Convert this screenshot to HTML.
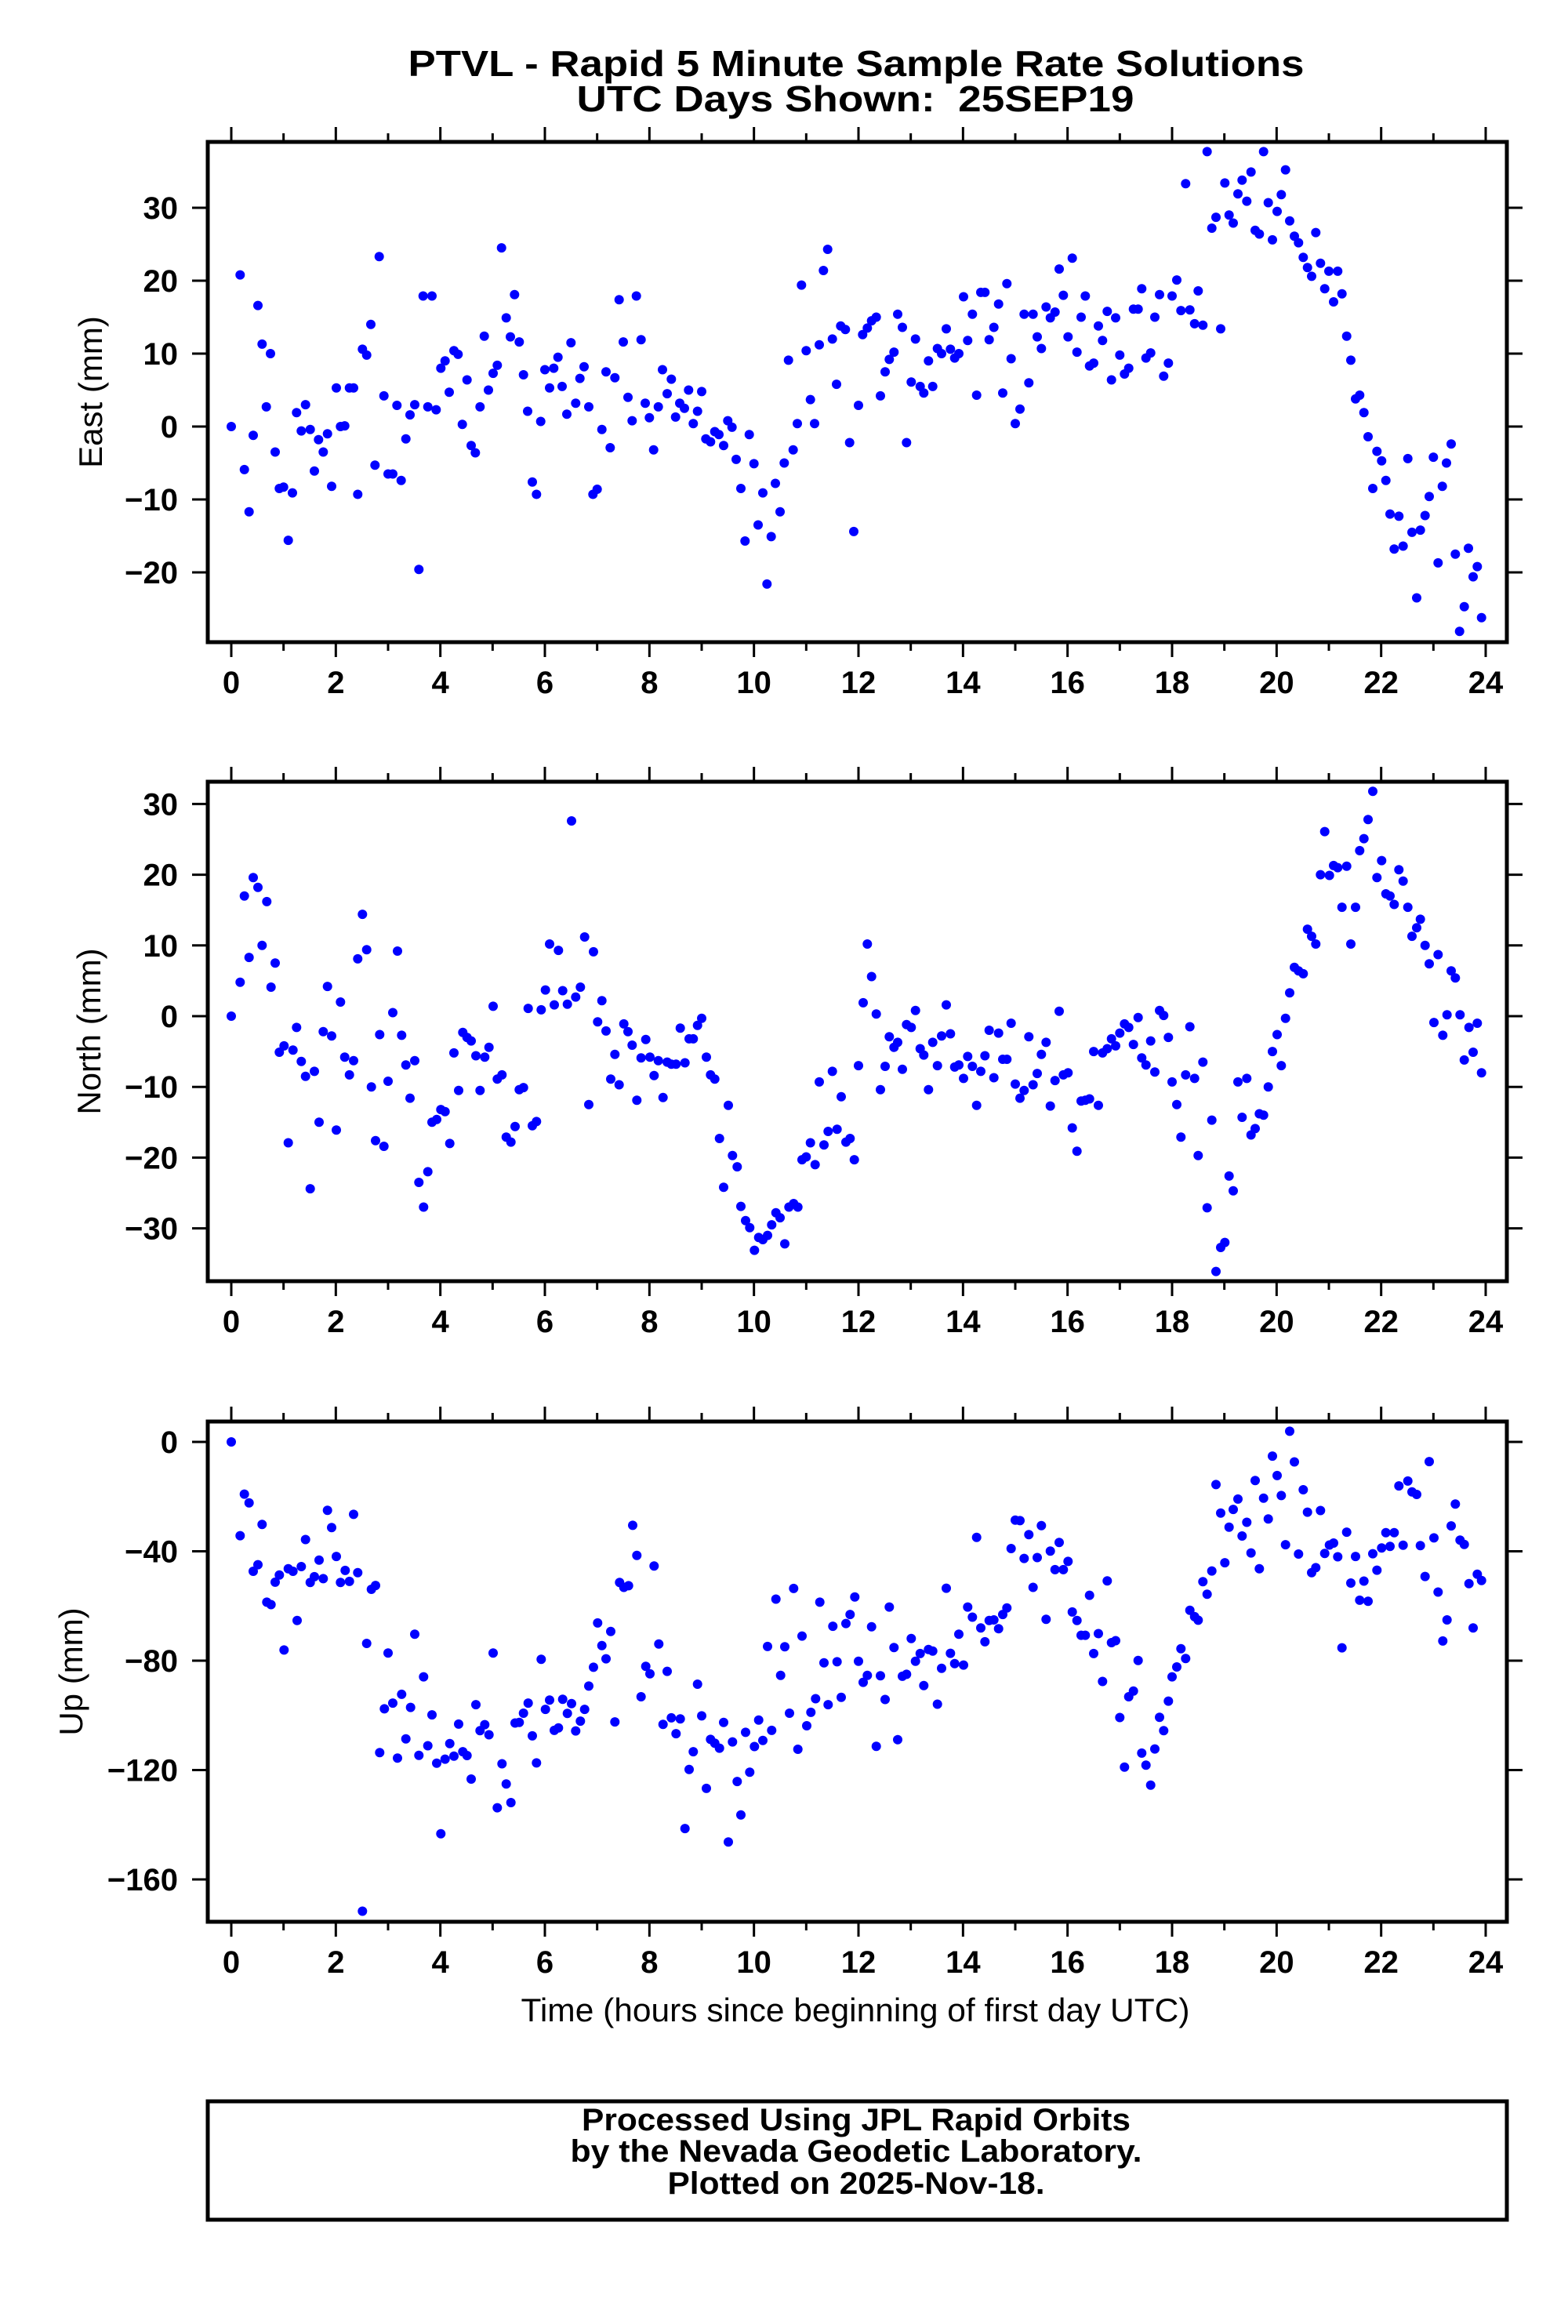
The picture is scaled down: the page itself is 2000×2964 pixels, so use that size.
<!DOCTYPE html>
<html>
<head>
<meta charset="utf-8">
<style>
  html, body { margin: 0; padding: 0; background: #fff; }
  svg { display: block; }
  text { font-family: "Liberation Sans", Arial, sans-serif; fill: #000; }
  .b { font-weight: bold; }
</style>
</head>
<body>
<svg id="chart" xmlns="http://www.w3.org/2000/svg" width="2000" height="2964" viewBox="0 0 2000 2964">
  <rect x="0" y="0" width="2000" height="2964" fill="#fff"/>
  <text class="b" x="1092" y="97" font-size="46" text-anchor="middle" textLength="1143" lengthAdjust="spacingAndGlyphs">PTVL - Rapid 5 Minute Sample Rate Solutions</text>
  <text class="b" x="1091" y="142" font-size="46" text-anchor="middle" textLength="711" lengthAdjust="spacingAndGlyphs" xml:space="preserve">UTC Days Shown:  25SEP19</text>
  <g id="panels"></g>
  <text x="1091" y="2578" font-size="42" text-anchor="middle" textLength="853" lengthAdjust="spacingAndGlyphs">Time (hours since beginning of first day UTC)</text>
  <rect x="265" y="2680" width="1657" height="151" fill="none" stroke="#000" stroke-width="5"/>
  <text class="b" x="1092" y="2717" font-size="40" text-anchor="middle" textLength="700" lengthAdjust="spacingAndGlyphs">Processed Using JPL Rapid Orbits</text>
  <text class="b" x="1092" y="2757" font-size="40" text-anchor="middle" textLength="729" lengthAdjust="spacingAndGlyphs">by the Nevada Geodetic Laboratory.</text>
  <text class="b" x="1092" y="2798" font-size="40" text-anchor="middle" textLength="481" lengthAdjust="spacingAndGlyphs">Plotted on 2025-Nov-18.</text>
</svg>
<script>
// ---------- Data ----------
const xTickLabels = [0,2,4,6,8,10,12,14,16,18,20,22,24];
const eastTicks = [-20,-10,0,10,20,30];
const northTicks = [-30,-20,-10,0,10,20,30];
const upTicks = [-160,-120,-80,-40,0];

const eastHours = [0.0,0.17,0.25,0.34,0.42,0.51,0.59,0.67,0.75,0.84,0.92,1.0,1.09,1.17,1.25,1.34,1.42,1.51,1.59,1.67,1.76,1.84,1.92,2.01,2.09,2.17,2.26,2.34,2.42,2.51,2.59,2.67,2.75,2.83,2.92,3.0,3.09,3.17,3.25,3.34,3.42,3.51,3.59,3.67,3.76,3.84,3.92,4.01,4.09,4.17,4.26,4.34,4.42,4.51,4.59,4.67,4.76,4.84,4.92,5.01,5.09,5.17,5.26,5.34,5.42,5.51,5.59,5.67,5.76,5.84,5.92,6.0,6.09,6.17,6.25,6.33,6.42,6.5,6.59,6.67,6.75,6.84,6.92,7.0,7.09,7.17,7.25,7.34,7.42,7.5,7.59,7.67,7.75,7.84,7.92,8.0,8.08,8.17,8.25,8.34,8.42,8.5,8.58,8.67,8.75,8.84,8.92,9.0,9.08,9.17,9.25,9.33,9.42,9.5,9.58,9.66,9.75,9.83,9.91,10.0,10.08,10.17,10.25,10.33,10.41,10.5,10.58,10.66,10.75,10.83,10.91,11.0,11.08,11.16,11.25,11.33,11.41,11.5,11.58,11.66,11.75,11.83,11.91,12.0,12.08,12.17,12.25,12.34,12.42,12.51,12.59,12.68,12.75,12.84,12.92,13.01,13.09,13.18,13.25,13.34,13.42,13.51,13.59,13.68,13.76,13.84,13.92,14.01,14.09,14.18,14.26,14.34,14.42,14.5,14.59,14.68,14.76,14.84,14.92,15.0,15.09,15.17,15.26,15.34,15.42,15.5,15.59,15.67,15.76,15.84,15.92,16.01,16.09,16.18,16.26,16.34,16.42,16.5,16.59,16.67,16.76,16.84,16.92,17.0,17.09,17.17,17.26,17.35,17.42,17.5,17.59,17.67,17.76,17.84,17.93,18.0,18.09,18.17,18.26,18.34,18.43,18.5,18.59,18.67,18.76,18.84,18.93,19.01,19.09,19.17,19.26,19.34,19.43,19.51,19.59,19.67,19.75,19.84,19.92,20.01,20.09,20.17,20.25,20.34,20.42,20.51,20.59,20.67,20.75,20.84,20.92,21.0,21.09,21.17,21.25,21.34,21.42,21.51,21.59,21.67,21.75,21.84,21.92,22.01,22.09,22.17,22.25,22.34,22.42,22.51,22.59,22.68,22.75,22.84,22.92,23.0,23.09,23.17,23.25,23.34,23.42,23.5,23.59,23.67,23.76,23.84,23.92];
const eastValues = [0.0,20.8,-5.9,-11.7,-1.2,16.6,11.3,2.7,10.0,-3.5,-8.5,-8.3,-15.6,-9.1,1.9,-0.6,3.0,-0.4,-6.1,-1.8,-3.5,-1.0,-8.2,5.3,0.0,0.1,5.3,5.3,-9.3,10.6,9.8,14.0,-5.3,23.3,4.2,-6.5,-6.5,2.9,-7.4,-1.7,1.6,3.0,-19.6,17.9,2.7,17.9,2.3,8.0,9.0,4.7,10.4,9.9,0.3,6.4,-2.6,-3.6,2.7,12.4,5.0,7.3,8.4,24.5,14.9,12.3,18.1,11.6,7.1,2.1,-7.6,-9.3,0.7,7.8,5.3,8.0,9.5,5.5,1.7,11.5,3.2,6.6,8.2,2.7,-9.3,-8.6,-0.4,7.5,-2.9,6.7,17.4,11.6,4.0,0.8,17.9,11.9,3.2,1.2,-3.2,2.7,7.8,4.5,6.5,1.3,3.2,2.5,5.0,0.4,2.1,4.8,-1.7,-2.1,-0.7,-1.1,-2.6,0.8,-0.1,-4.5,-8.5,-15.7,-1.1,-5.1,-13.5,-9.1,-21.6,-15.1,-7.8,-11.7,-5.0,9.1,-3.2,0.4,19.4,10.4,3.7,0.4,11.2,21.4,24.3,12.0,5.8,13.8,13.3,-2.2,-14.4,2.9,12.6,13.5,14.5,15.0,4.2,7.5,9.2,10.2,15.4,13.6,-2.2,6.1,12.0,5.5,4.6,9.0,5.5,10.7,10.0,13.4,10.6,9.4,10.0,17.8,11.8,15.4,4.3,18.4,18.4,11.9,13.6,16.8,4.6,19.6,9.3,0.4,2.4,15.4,6.0,15.4,12.3,10.7,16.4,14.9,15.7,21.6,18.0,12.3,23.1,10.2,15.0,17.9,8.3,8.7,13.8,11.8,15.8,6.4,14.9,9.8,7.2,8.0,16.1,16.1,18.9,9.4,10.1,15.0,18.1,6.9,8.7,17.9,20.1,15.9,33.3,16.0,14.1,18.6,13.9,37.7,27.2,28.7,13.4,33.4,29.0,27.9,31.9,33.8,30.9,34.9,26.9,26.4,37.7,30.7,25.6,29.5,31.8,35.2,28.2,26.1,25.2,23.2,21.8,20.6,26.6,22.4,18.9,21.3,17.1,21.3,18.2,12.4,9.1,3.8,4.3,1.9,-1.4,-8.5,-3.4,-4.7,-7.4,-12.0,-16.8,-12.3,-16.4,-4.4,-14.5,-23.5,-14.2,-12.2,-9.6,-4.2,-18.7,-8.2,-5.0,-2.4,-17.5,-28.1,-24.7,-16.7,-20.6,-19.2,-26.2];

const northHours = [0.0,0.17,0.25,0.34,0.42,0.51,0.59,0.68,0.76,0.84,0.92,1.01,1.09,1.18,1.25,1.34,1.42,1.51,1.59,1.68,1.76,1.84,1.92,2.01,2.09,2.17,2.26,2.34,2.42,2.51,2.59,2.68,2.76,2.84,2.92,3.0,3.09,3.18,3.26,3.34,3.42,3.51,3.59,3.68,3.76,3.84,3.93,4.01,4.09,4.18,4.26,4.35,4.43,4.51,4.59,4.68,4.76,4.85,4.93,5.01,5.09,5.18,5.26,5.35,5.43,5.51,5.59,5.68,5.76,5.84,5.93,6.01,6.09,6.18,6.26,6.34,6.43,6.51,6.59,6.68,6.76,6.84,6.93,7.01,7.09,7.17,7.26,7.34,7.42,7.51,7.59,7.67,7.76,7.84,7.93,8.01,8.09,8.17,8.26,8.34,8.42,8.51,8.59,8.68,8.76,8.84,8.92,9.0,9.09,9.17,9.25,9.34,9.42,9.51,9.59,9.68,9.75,9.84,9.92,10.01,10.09,10.17,10.26,10.34,10.42,10.5,10.59,10.67,10.76,10.84,10.92,11.0,11.08,11.17,11.25,11.34,11.42,11.5,11.59,11.67,11.76,11.84,11.92,12.0,12.09,12.17,12.25,12.34,12.42,12.51,12.59,12.68,12.75,12.84,12.92,13.01,13.09,13.18,13.25,13.34,13.42,13.51,13.59,13.68,13.76,13.84,13.92,14.01,14.09,14.18,14.26,14.34,14.42,14.5,14.59,14.68,14.76,14.84,14.92,15.0,15.09,15.17,15.26,15.34,15.42,15.5,15.59,15.67,15.76,15.84,15.92,16.01,16.09,16.18,16.26,16.34,16.42,16.5,16.59,16.67,16.76,16.84,16.92,17.0,17.09,17.17,17.26,17.35,17.42,17.5,17.59,17.67,17.76,17.84,17.93,18.0,18.09,18.17,18.26,18.34,18.43,18.5,18.59,18.67,18.76,18.84,18.93,19.01,19.09,19.17,19.26,19.34,19.43,19.51,19.59,19.67,19.75,19.84,19.92,20.01,20.09,20.17,20.25,20.34,20.42,20.51,20.59,20.67,20.75,20.84,20.92,21.01,21.09,21.17,21.25,21.34,21.42,21.51,21.59,21.67,21.75,21.84,21.92,22.01,22.09,22.17,22.25,22.34,22.42,22.51,22.59,22.68,22.75,22.84,22.92,23.01,23.09,23.18,23.26,23.34,23.42,23.51,23.59,23.68,23.76,23.84,23.92];
const northValues = [0.0,4.8,17.0,8.3,19.6,18.2,10.0,16.2,4.1,7.5,-5.1,-4.2,-17.9,-4.8,-1.6,-6.4,-8.5,-24.4,-7.8,-15.0,-2.2,4.2,-2.8,-16.1,2.0,-5.8,-8.3,-6.3,8.1,14.4,9.4,-10.0,-17.6,-2.6,-18.4,-9.2,0.5,9.2,-2.7,-6.9,-11.6,-6.3,-23.5,-27.0,-22.0,-15.0,-14.6,-13.2,-13.5,-18.0,-5.2,-10.5,-2.3,-3.0,-3.5,-5.6,-10.5,-5.8,-4.4,1.4,-8.9,-8.3,-17.1,-17.8,-15.6,-10.4,-10.1,1.1,-15.5,-14.9,0.9,3.7,10.2,1.6,9.3,3.6,1.7,27.6,2.7,4.1,11.2,-12.5,9.1,-0.8,2.2,-2.1,-8.9,-5.4,-9.7,-1.1,-2.2,-4.1,-11.9,-5.9,-3.3,-5.8,-8.4,-6.3,-11.5,-6.5,-6.8,-6.8,-1.7,-6.6,-3.2,-3.2,-1.3,-0.3,-5.8,-8.3,-8.9,-17.3,-24.2,-12.6,-19.7,-21.3,-26.9,-28.9,-29.9,-33.1,-31.3,-31.6,-31.0,-29.5,-27.8,-28.5,-32.2,-27.0,-26.5,-27.0,-20.3,-19.9,-17.9,-21.0,-9.3,-18.2,-16.3,-7.8,-16.0,-11.4,-17.8,-17.3,-20.3,-7.0,1.9,10.2,5.6,0.3,-10.4,-7.1,-2.9,-4.4,-3.7,-7.5,-1.2,-1.6,0.8,-4.6,-5.5,-10.4,-3.7,-7.0,-2.8,1.6,-2.5,-7.2,-6.9,-8.8,-5.7,-7.1,-12.6,-7.8,-5.6,-2.0,-8.7,-2.4,-6.1,-6.1,-1.0,-9.6,-11.6,-10.5,-2.9,-9.7,-8.1,-5.4,-3.7,-12.7,-9.1,0.7,-8.3,-8.0,-15.8,-19.1,-12.0,-11.9,-11.7,-5.0,-12.6,-5.2,-4.6,-3.2,-4.2,-2.4,-1.1,-1.6,-4.0,-0.2,-5.9,-6.9,-3.5,-7.9,0.8,0.1,-3.0,-9.3,-12.5,-17.1,-8.3,-1.5,-8.8,-19.7,-6.5,-27.1,-14.7,-36.1,-32.7,-32.0,-22.6,-24.7,-9.3,-14.3,-8.8,-16.8,-15.9,-13.8,-14.0,-10.0,-5.0,-2.6,-7.0,-0.3,3.3,6.9,6.4,6.0,12.3,11.3,10.2,20.0,26.1,19.9,21.3,21.0,15.4,21.2,10.2,15.4,23.4,25.1,27.8,31.8,19.6,22.0,17.3,17.0,15.8,20.7,19.1,15.4,11.3,12.5,13.7,10.0,7.4,-0.9,8.7,-2.7,0.2,6.4,5.4,0.2,-6.2,-1.6,-5.1,-1.0,-8.0];

const upHours = [0.0,0.17,0.25,0.34,0.42,0.51,0.59,0.68,0.76,0.84,0.92,1.01,1.09,1.18,1.26,1.34,1.42,1.51,1.59,1.68,1.76,1.84,1.92,2.01,2.09,2.18,2.26,2.34,2.42,2.51,2.59,2.68,2.76,2.84,2.93,3.0,3.09,3.18,3.26,3.34,3.43,3.51,3.59,3.68,3.76,3.84,3.93,4.01,4.09,4.18,4.26,4.35,4.43,4.51,4.59,4.68,4.76,4.85,4.93,5.01,5.09,5.18,5.26,5.35,5.43,5.51,5.59,5.68,5.76,5.84,5.93,6.01,6.09,6.18,6.26,6.34,6.43,6.51,6.59,6.68,6.76,6.84,6.93,7.01,7.09,7.17,7.26,7.34,7.43,7.51,7.6,7.68,7.76,7.84,7.93,8.01,8.09,8.18,8.26,8.34,8.42,8.51,8.59,8.68,8.76,8.84,8.92,9.0,9.09,9.17,9.25,9.34,9.42,9.51,9.59,9.68,9.75,9.84,9.92,10.01,10.09,10.17,10.26,10.34,10.42,10.51,10.59,10.68,10.76,10.84,10.92,11.01,11.09,11.18,11.26,11.34,11.42,11.51,11.59,11.67,11.76,11.84,11.93,12.0,12.09,12.17,12.25,12.34,12.42,12.51,12.59,12.68,12.75,12.84,12.92,13.01,13.09,13.18,13.25,13.34,13.42,13.51,13.59,13.68,13.76,13.84,13.92,14.01,14.09,14.18,14.26,14.34,14.42,14.5,14.59,14.68,14.76,14.84,14.92,15.0,15.09,15.17,15.26,15.34,15.42,15.5,15.59,15.67,15.76,15.84,15.92,16.01,16.09,16.18,16.26,16.34,16.42,16.5,16.59,16.67,16.76,16.84,16.92,17.0,17.09,17.17,17.26,17.35,17.42,17.5,17.59,17.67,17.76,17.84,17.93,18.0,18.09,18.17,18.26,18.34,18.43,18.5,18.59,18.67,18.76,18.84,18.93,19.01,19.09,19.17,19.26,19.34,19.43,19.51,19.59,19.67,19.75,19.84,19.92,20.01,20.09,20.17,20.25,20.34,20.42,20.51,20.59,20.67,20.75,20.84,20.92,21.01,21.09,21.17,21.25,21.34,21.42,21.51,21.59,21.67,21.75,21.84,21.92,22.01,22.09,22.17,22.25,22.34,22.42,22.51,22.59,22.68,22.75,22.84,22.92,23.01,23.09,23.18,23.26,23.34,23.42,23.51,23.59,23.68,23.76,23.84,23.92];
const upValues = [0,-34.3,-19.1,-22.3,-47.3,-44.9,-30.2,-58.6,-59.5,-51.3,-48.7,-76.1,-46.4,-47.3,-65.3,-45.6,-35.7,-51.4,-49.3,-43.2,-50.0,-25.0,-31.3,-41.9,-51.4,-47.0,-51.0,-26.5,-47.8,-171.6,-73.7,-53.9,-52.5,-113.6,-97.6,-77.2,-95.5,-115.6,-92.3,-108.6,-97.1,-70.3,-114.6,-85.9,-111.1,-99.8,-117.5,-143.3,-116.0,-110.3,-114.9,-103.2,-113.3,-114.7,-123.3,-96.1,-105.6,-103.4,-107.1,-77.2,-133.8,-117.7,-125.1,-131.9,-102.8,-102.6,-99.2,-95.5,-107.5,-117.4,-79.5,-97.8,-94.4,-105.5,-104.6,-94.1,-99.3,-95.7,-105.7,-102.1,-97.8,-89.3,-82.4,-66.2,-74.5,-79.3,-69.3,-102.4,-51.4,-53.2,-52.6,-30.5,-41.5,-93.2,-82.1,-84.8,-45.4,-73.9,-103.3,-83.9,-100.9,-106.7,-101.3,-141.4,-119.8,-113.3,-88.6,-100.2,-126.7,-108.8,-110.2,-112.0,-102.6,-146.3,-109.7,-124.2,-136.4,-106.2,-120.8,-111.4,-101.7,-109.2,-74.8,-105.5,-57.5,-85.4,-74.9,-99.2,-53.6,-112.4,-71.0,-103.8,-98.9,-93.9,-58.6,-80.8,-96.1,-67.4,-80.4,-93.4,-66.4,-63.1,-56.7,-80.2,-87.9,-85.4,-67.6,-111.3,-85.5,-94.2,-60.4,-75.2,-108.9,-85.7,-85.0,-71.9,-80.2,-77.4,-89.1,-75.9,-76.5,-95.9,-82.8,-53.5,-77.3,-81.1,-70.3,-81.6,-60.4,-64.1,-34.9,-68.0,-73.1,-65.3,-65.1,-68.3,-63.1,-60.7,-39.0,-28.6,-28.8,-42.6,-33.9,-53.2,-42.3,-30.6,-64.9,-39.9,-46.7,-36.8,-46.7,-43.7,-62.2,-65.3,-70.7,-70.7,-56.1,-77.4,-70.1,-87.6,-50.8,-73.4,-72.7,-100.8,-118.9,-93.2,-91.1,-79.9,-113.8,-118.2,-125.5,-112.3,-100.7,-105.6,-94.8,-85.9,-82.3,-75.6,-79.2,-61.6,-63.9,-65.2,-51.1,-55.7,-47.2,-15.6,-26.0,-44.2,-31.2,-24.7,-20.9,-34.4,-29.4,-40.6,-14.1,-46.4,-20.6,-28.2,-5.2,-12.3,-19.6,-37.6,3.9,-7.3,-41.0,-17.5,-25.7,-47.8,-46.0,-25.1,-40.8,-37.7,-37.0,-42.0,-75.3,-33.0,-51.6,-41.9,-57.9,-50.9,-58.3,-40.9,-46.9,-38.8,-33.2,-38.2,-33.2,-16.1,-37.8,-14.3,-18.3,-19.2,-37.9,-49.2,-7.2,-35.1,-54.9,-72.8,-65.1,-30.7,-22.7,-35.9,-37.5,-51.8,-68.0,-48.4,-50.7];

// ---------- Layout ----------
const NS = 'http://www.w3.org/2000/svg';
const frameLeft = 265, frameRight = 1922;
function xScale(h) { return 295 + h * 66.667; }

const panels = [
  { key: 'east',  label: 'East (mm)',  top: 181, bottom: 819,  y0: 544,  ppu: 9.3,    ticks: eastTicks,  hours: eastHours,  values: eastValues,  labelX: 130 },
  { key: 'north', label: 'North (mm)', top: 997, bottom: 1634, y0: 1296, ppu: 9.02,   ticks: northTicks, hours: northHours, values: northValues, labelX: 128 },
  { key: 'up',    label: 'Up (mm)',    top: 1813, bottom: 2451, y0: 1839, ppu: 3.4875, ticks: upTicks,    hours: upHours,    values: upValues,    labelX: 105 }
];

function mk(tag, attrs, parent) {
  const el = document.createElementNS(NS, tag);
  for (const k in attrs) el.setAttribute(k, attrs[k]);
  parent.appendChild(el);
  return el;
}

const root = document.getElementById('panels');

panels.forEach(p => {
  const yScale = v => p.y0 - v * p.ppu;
  const g = mk('g', {}, root);
  
  

  const pts = mk('g', { fill: '#0000ff' }, g);
  
  
  for (let i = 0; i < p.hours.length; i++) {
    const c = mk('circle', { cx: xScale(p.hours[i]).toFixed(1), cy: yScale(p.values[i]).toFixed(1), r: 6 }, pts);
    
    
  }

  const fr = mk('rect', { x: frameLeft, y: p.top, width: frameRight - frameLeft, height: p.bottom - p.top, fill: 'none', stroke: '#000', 'stroke-width': 5 }, g);
  
  

  const xt = mk('g', { stroke: '#000', 'stroke-width': 3 }, g);
  
  
  for (let h = 0; h <= 24; h++) {
    const len = (h % 2 === 0) ? 17 : 9;
    const x = xScale(h);
    mk('line', { x1: x, x2: x, y1: p.bottom + 2, y2: p.bottom + 2 + len }, xt);
    mk('line', { x1: x, x2: x, y1: p.top - 2, y2: p.top - 2 - len }, xt);
  }
  xTickLabels.forEach(v => {
    const t = mk('text', { x: xScale(v), y: p.bottom + 65, 'font-size': 40, 'font-weight': 'bold', 'text-anchor': 'middle' }, g);
    
    
    t.textContent = String(v);
  });

  const yt = mk('g', { stroke: '#000', 'stroke-width': 3 }, g);
  
  
  p.ticks.forEach(v => {
    const y = yScale(v);
    mk('line', { x1: frameLeft - 2, x2: frameLeft - 20, y1: y, y2: y }, yt);
    mk('line', { x1: frameRight + 2, x2: frameRight + 20, y1: y, y2: y }, yt);
    const t = mk('text', { x: 227, y: y + 14, 'font-size': 40, 'font-weight': 'bold', 'text-anchor': 'end' }, g);
    
    
    t.textContent = v < 0 ? '\u2212' + Math.abs(v) : String(v);
  });

  const cy = (p.top + p.bottom) / 2;
  const yl = mk('text', { x: p.labelX, y: cy, 'font-size': 42, 'text-anchor': 'middle', transform: 'rotate(-90 ' + p.labelX + ' ' + cy + ')' }, g);
  
  
  yl.textContent = p.label;
});
</script>
</body>
</html>
